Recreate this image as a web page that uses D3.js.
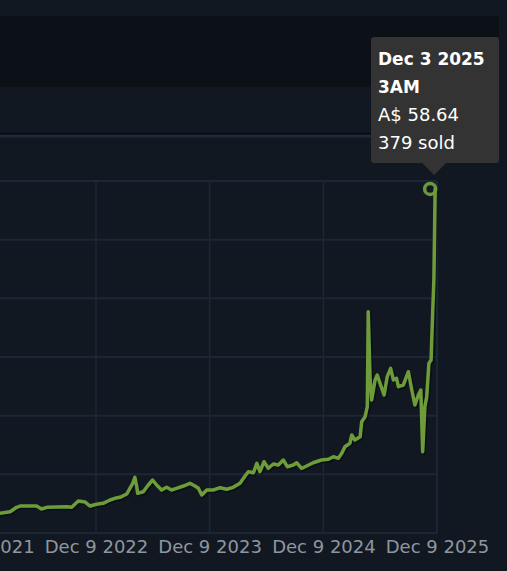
<!DOCTYPE html>
<html><head><meta charset="utf-8">
<script src="https://cdn.jsdelivr.net/npm/d3@7"></script>
<style>
html,body{margin:0;padding:0;background:#121821;overflow:hidden;}
svg{display:block;}
</style></head>
<body>
<svg id="chart" width="507" height="571"></svg>
<script>
// ---- data ----
const dates = ["2022-01-03","2022-02-03","2022-03-08","2022-03-29","2022-04-09","2022-06-01","2022-06-17","2022-07-04","2022-09-06","2022-09-22","2022-10-13","2022-11-04","2022-11-20","2022-12-11","2023-01-01","2023-01-23","2023-02-08","2023-02-24","2023-03-18","2023-03-28","2023-04-06","2023-04-13","2023-04-19","2023-04-22","2023-05-10","2023-05-26","2023-06-09","2023-06-22","2023-07-08","2023-07-24","2023-08-09","2023-08-25","2023-09-16","2023-10-07","2023-10-23","2023-11-03","2023-11-14","2023-11-30","2023-12-21","2024-01-12","2024-02-02","2024-02-23","2024-03-16","2024-04-01","2024-04-12","2024-04-28","2024-05-09","2024-05-19","2024-06-01","2024-06-15","2024-07-01","2024-07-17","2024-08-02","2024-08-15","2024-09-03","2024-09-14","2024-09-30","2024-10-16","2024-11-06","2024-12-03","2024-12-25","2025-01-10","2025-01-26","2025-02-06","2025-02-16","2025-03-04","2025-03-10","2025-03-20","2025-04-06","2025-04-11","2025-04-22","2025-04-29","2025-05-02","2025-05-08","2025-05-13","2025-05-24","2025-05-31","2025-06-09","2025-06-22","2025-07-02","2025-07-13","2025-07-22","2025-08-01","2025-08-07","2025-08-23","2025-09-08","2025-09-19","2025-09-29","2025-10-10","2025-10-18","2025-10-24","2025-10-31","2025-11-06","2025-11-13","2025-11-20","2025-11-25","2025-11-29","2025-12-03"];
const prices = [3.2,3.36,3.63,4.38,4.6,4.6,4.09,4.38,4.48,4.38,5.45,5.28,4.6,4.89,5.06,5.62,5.91,6.08,6.65,7.62,8.47,9.49,7.89,6.77,7.04,8.18,9.03,8.18,7.33,7.79,7.33,7.62,8.01,8.47,8.01,7.62,6.48,7.33,7.33,7.72,7.45,7.79,8.47,9.72,10.45,10.28,11.88,10.45,12.15,11.03,11.76,11.59,12.44,11.3,11.59,11.98,11.03,11.42,11.98,12.44,12.56,13.0,12.73,13.58,14.71,15.29,16.7,15.85,16.41,18.97,19.82,21.53,37.72,26.08,22.67,26.08,26.93,25.51,23.52,26.64,28.07,26.08,26.37,24.94,25.23,27.49,24.37,21.82,23.52,24.37,13.86,21.53,23.23,28.92,29.49,37.45,43.12,58.64];
const xTicks = ["2021-12-09","2022-12-09","2023-12-09","2024-12-09","2025-12-09"];
const yTicks = [0,10,20,30,40,50,60];
const tooltipBold = ["Dec 3 2025","3AM"];
const tooltipPlain = ["A$ 58.64","379 sold"];

const parse = d3.timeParse("%Y-%m-%d");
const data = dates.map((d,i)=>({date:parse(d), value:prices[i]}));
const tickDates = xTicks.map(parse);

const svg = d3.select("#chart");

// page chrome
svg.append("rect").attr("x",0).attr("y",0).attr("width",507).attr("height",571).attr("fill","#121821");
svg.append("rect").attr("x",0).attr("y",16).attr("width",499).attr("height",71).attr("fill","#0c1118");
svg.append("rect").attr("x",0).attr("y",133).attr("width",499).attr("height",1).attr("fill","#05080b");
svg.append("rect").attr("x",0).attr("y",135).attr("width",499).attr("height",2.5).attr("fill","#1d2a39");

// scales
const x = d3.scaleTime()
  .domain([parse("2022-12-09"), parse("2025-12-09")])
  .range([96, 437]);
const y = d3.scaleLinear().domain([0, 60]).range([533, 181]);

const plotLeft = x(parse("2021-06-01"));
const plotRight = x(tickDates[tickDates.length-1]);
const gridColor = "#1c2735";

// horizontal grid
svg.append("g").selectAll("line").data(yTicks).join("line")
  .attr("x1", plotLeft).attr("x2", plotRight)
  .attr("y1", d=>y(d)).attr("y2", d=>y(d))
  .attr("stroke", gridColor).attr("stroke-width", 2);

// vertical grid
svg.append("g").selectAll("line").data(tickDates).join("line")
  .attr("x1", d=>x(d)).attr("x2", d=>x(d))
  .attr("y1", y(60)).attr("y2", y(0))
  .attr("stroke", gridColor).attr("stroke-width", d=> +d===+tickDates[tickDates.length-1] ? 2 : 1.5);

// x axis labels
const fmt = d3.timeFormat("%b %-d %Y");
const xAxis = d3.axisBottom(x).tickValues(tickDates).tickFormat(fmt).tickSize(0).tickPadding(7);
const gx = svg.append("g").attr("transform", `translate(0,${y(0)})`).call(xAxis);
gx.select(".domain").remove();
gx.selectAll("text").attr("fill","#8e979f").attr("font-family","DejaVu Sans").attr("font-size","18px");

// highlight circle on last point (drawn under the line)
const last = data[data.length-1];
svg.append("circle").attr("cx", x(last.date)-5).attr("cy", y(last.value))
  .attr("r", 5.5).attr("fill","none").attr("stroke","#6b993a").attr("stroke-width",3.5);

// line with shadow
const line = d3.line().x(d=>x(d.date)).y(d=>y(d.value)).curve(d3.curveLinear);
svg.append("path").datum(data).attr("d", line)
  .attr("fill","none").attr("stroke","#000").attr("stroke-opacity",0.35)
  .attr("stroke-width",3.5).attr("stroke-linejoin","round")
  .attr("transform","translate(1.5,1.5)");
svg.append("path").datum(data).attr("d", line)
  .attr("fill","none").attr("stroke","#6e9c3b")
  .attr("stroke-width",3.5).attr("stroke-linejoin","round").attr("stroke-linecap","round");

// tooltip
const tipX = x(last.date) - 1;
const tip = svg.append("g");
tip.append("rect").attr("x",371).attr("y",37).attr("width",128).attr("height",126)
  .attr("rx",3).attr("fill","#333333");
tip.append("path").attr("d", `M${tipX-13},162 L${tipX+13},162 L${tipX},175 Z`).attr("fill","#333333");
tooltipBold.forEach((t,i)=>{
  tip.append("text").attr("x",378).attr("y",65+i*28).text(t)
    .attr("fill","#ffffff").attr("font-family","DejaVu Sans").attr("font-weight","bold").attr("font-size","17px");
});
tooltipPlain.forEach((t,i)=>{
  tip.append("text").attr("x",378).attr("y",121+i*27.5).text(t)
    .attr("fill","#ffffff").attr("font-family","DejaVu Sans").attr("font-size","18px");
});
</script>
</body></html>
